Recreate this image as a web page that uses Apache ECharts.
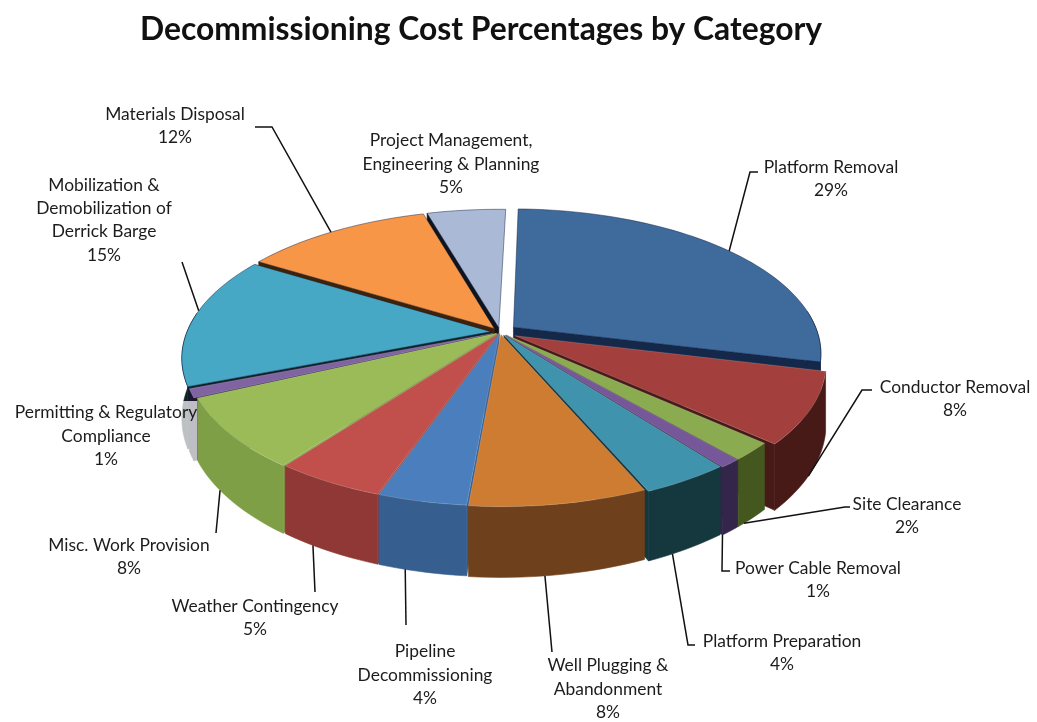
<!DOCTYPE html>
<html>
<head>
<meta charset="utf-8">
<style>html,body{margin:0;padding:0;background:#fff}#chart{width:1037px;height:722px}</style>
<script src="https://cdn.jsdelivr.net/npm/echarts@6/dist/echarts.min.js"></script>
</head>
<body>
<div id="chart"></div>
<script>
// Cost categories, clockwise from twelve o'clock.
const categories = [
  'Platform Removal', 'Conductor Removal', 'Site Clearance', 'Power Cable Removal',
  'Platform Preparation', 'Well Plugging &\nAbandonment', 'Pipeline\nDecommissioning',
  'Weather Contingency', 'Misc. Work Provision', 'Permitting & Regulatory\nCompliance',
  'Mobilization &\nDemobilization of\nDerrick Barge', 'Materials Disposal',
  'Project Management,\nEngineering & Planning'
];
const percentages = [29, 8, 2, 1, 4, 8, 4, 5, 8, 1, 15, 12, 5];

const topColors = ['#3e6a9c', '#a33f3c', '#8bab50', '#76579a', '#3f93ad', '#cf7c33',
  '#4a7ebd', '#c14f4c', '#9bbb59', '#8064a2', '#46a8c5', '#f79646', '#aab9d6'];
const wallColors = ['#14294a', '#471a18', '#44571f', '#33264a', '#15383f', '#6e411c',
  '#365e8e', '#8f3836', '#7f9f47', '#1c1630', '#0f2029', '#3f2208', '#10141c'];

// Where each label sits, where its leader leaves the wedge (0..1 along the arc) and how it bends.
const labelCenters = [
  [831, 179], [955, 399], [907, 516], [818, 580], [782, 653], [608, 689], [425, 675],
  [255, 618], [129, 557], [106, 436], [104, 220], [175, 126], [451, 164]
];
const leaderAt = [0.5, 0.55, 0.8, 1, 0.69, 0.58, 0.69, 0.67, 0.62, 0.5, 0.57, 0.48, 0.5];
const leaderBends = [
  [[750, 172], [758, 172]], [[862, 390], [872, 390]], [[845, 507], [850, 507]],
  [[722, 571], [730, 571]], [[688, 645], [695, 645]], [[552, 652]], [[406, 625]],
  [[315, 592]], [[216, 533]], null, [[182, 262]], [[272, 127], [255, 127]], null
];
// How far each wedge is pulled out of the disc, as a share of the radius.
const explodeBy = [0.056, 0.056, 0.03, 0.03, 0.025, 0.015, 0.012, 0.012, 0.015, 0.025, 0.03, 0.03, 0.03];

// Perspective model of the disc.
const view = { x: 500, y: 332, rx: 304, ry: 141, persp: 0.178, depth: 58, rotate: 1.5 * Math.PI / 180 };

const total = percentages.reduce((a, b) => a + b, 0);
const wedges = [];
percentages.reduce((acc, v, i) => {
  const a0 = view.rotate + acc / total * 2 * Math.PI;
  const a1 = view.rotate + (acc + v) / total * 2 * Math.PI;
  const mid = (a0 + a1) / 2;
  wedges.push({ i, a0, a1, mid, ox: Math.sin(mid) * explodeBy[i], oz: Math.cos(mid) * explodeBy[i] });
  return acc + v;
}, 0);

// Disc coordinates (x right, z to the back, unit radius) to pixels; h is the drop below the top face.
function project(x, z, h) {
  const s = 1 / (1 + view.persp * z);
  return [view.x + view.rx * x * s, view.y - view.ry * z * s + view.depth * (h || 0) * s];
}
function rim(w, a, h) {
  return project(w.ox + Math.sin(a), w.oz + Math.cos(a), h);
}
function arc(w, h) {
  const n = Math.max(4, Math.ceil((w.a1 - w.a0) / 0.03));
  const pts = [];
  for (let k = 0; k <= n; k++) pts.push(rim(w, w.a0 + (w.a1 - w.a0) * k / n, h));
  return pts;
}
function area(p) {
  let s = 0;
  for (let k = 0; k < p.length; k++) {
    const q = p[(k + 1) % p.length];
    s += p[k][0] * q[1] - q[0] * p[k][1];
  }
  return s / 2;
}
function poly(points, fill, stroke, lw) {
  return { type: 'polygon', shape: { points }, style: { fill, stroke: stroke || fill, lineWidth: lw || 0.6 } };
}

function renderWedge(params, api) {
  const w = wedges[api.value(0)];
  const top = arc(w, 0), bottom = arc(w, 1);
  const last = top.length - 1;
  const apexT = project(w.ox, w.oz, 0), apexB = project(w.ox, w.oz, 1);
  const wall = wallColors[w.i];
  const children = [];
  // Radial cut faces, kept only when they turn towards the viewer; an edge
  // pointing straight at the back shows no face.
  const startFace = [apexT, top[0], bottom[0], apexB];
  const endFace = [apexT, top[last], bottom[last], apexB];
  if (area(startFace) < 0 && Math.cos(w.a0) < 0.98) children.push(poly(startFace, wall));
  if (area(endFace) > 0 && Math.cos(w.a1) < 0.98) children.push(poly(endFace, wall));
  // Outer wall, trimmed to the stretch of rim on the near side of the horizon.
  const kept = [];
  top.forEach((p, k) => {
    const a = w.a0 + (w.a1 - w.a0) * k / last;
    if (Math.cos(a) < 0.14) kept.push(k);
  });
  if (kept.length > 1) {
    children.push(poly(kept.map(k => top[k]).concat(kept.slice().reverse().map(k => bottom[k])), wall));
  }
  // Far wedges carry a dark rim, near ones a pale bevel.
  const edge = Math.cos(w.mid) > 0 ? 'rgba(10,25,60,0.45)' : 'rgba(255,255,255,0.16)';
  children.push(poly([apexT].concat(top), topColors[w.i], edge, 1));
  return { type: 'group', children };
}

function renderLabel(params, api) {
  const idx = api.value(0);
  const w = wedges[idx];
  const c = labelCenters[idx];
  const children = [];
  const bends = leaderBends[idx];
  if (bends) {
    const a = w.a0 + (w.a1 - w.a0) * leaderAt[idx];
    const start = rim(w, a, Math.cos(a) < 0.05 ? 1 : 0);
    children.push({ type: 'polyline', shape: { points: [start].concat(bends) },
      style: { fill: 'none', stroke: '#111', lineWidth: 1.5 } });
  }
  children.push({ type: 'text', x: c[0], y: c[1], style: {
    text: categories[idx] + '\n' + percentages[idx] + '%',
    fill: '#1c1c1c', font: '17.4px Lato, "Open Sans", sans-serif',
    align: 'center', verticalAlign: 'middle', lineHeight: 23.3,
    backgroundColor: idx === 9 ? 'rgba(255,255,255,0.72)' : 'transparent'
  }});
  return { type: 'group', children };
}

// Paint wedges from the back of the disc to the front.
const paintOrder = wedges.slice().sort((a, b) => Math.cos(b.mid) - Math.cos(a.mid)).map(w => w.i);

const chart = echarts.init(document.getElementById('chart'), null, { renderer: 'canvas' });
chart.setOption({
  animation: false,
  backgroundColor: '#ffffff',
  title: {
    text: 'Decommissioning Cost Percentages by Category',
    left: 476, top: 9, textAlign: 'center',
    textStyle: { fontFamily: 'Lato, "Open Sans", sans-serif', fontWeight: 'bold', fontSize: 31.8, color: '#111' }
  },
  series: [
    { type: 'custom', coordinateSystem: 'none', renderItem: renderWedge, data: paintOrder.map(i => [i]), silent: true },
    { type: 'custom', coordinateSystem: 'none', renderItem: renderLabel, data: percentages.map((v, i) => [i, v]), z: 5, silent: true }
  ]
});
</script>
</body>
</html>
